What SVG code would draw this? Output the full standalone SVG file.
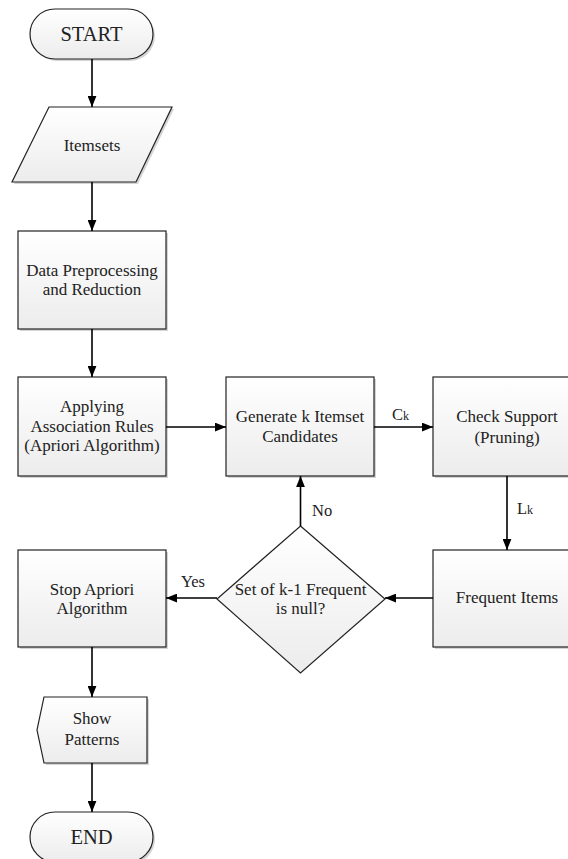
<svg xmlns="http://www.w3.org/2000/svg" width="568" height="859" viewBox="0 0 568 859">
<defs>
<linearGradient id="g" x1="0" y1="0" x2="0" y2="1">
<stop offset="0" stop-color="#ffffff"/>
<stop offset="1" stop-color="#ececec"/>
</linearGradient>
<marker id="a" viewBox="0 0 10 8" refX="10" refY="4" markerWidth="11" markerHeight="9" markerUnits="userSpaceOnUse" orient="auto">
<path d="M0,0 L10,4 L0,8 z" fill="#000"/>
</marker>
</defs>
<style>
.s{fill:url(#g);stroke:#222;stroke-width:1.2}
.sh{fill:#d4d4d4;stroke:none}
text{font-family:'Liberation Serif','DejaVu Serif',serif;fill:#222}
.t{font-size:17px;text-anchor:middle}
.tb{font-size:20.5px;text-anchor:middle}
.c{fill:none;stroke:#000;stroke-width:1.6;marker-end:url(#a)}
.l{font-size:16.5px}
</style>

<g id="start">
<rect class="sh" x="32" y="11" width="123" height="50" rx="25"/>
<rect class="s" x="30" y="9" width="123" height="50" rx="25"/>
<text class="tb" x="91.5" y="41">START</text>
</g>

<g id="itemsets">
<polygon class="sh" points="51,109 174,109 138,184 14,184"/>
<polygon class="s" points="49,107 172,107 136,182 12,182"/>
<text class="t" x="92" y="151">Itemsets</text>
</g>

<g id="preprocess">
<rect class="sh" x="20" y="233" width="148" height="98"/>
<rect class="s" x="18" y="231" width="148" height="98"/>
<text class="t" x="92" y="276">Data Preprocessing</text>
<text class="t" x="92" y="295">and Reduction</text>
</g>

<g id="apply">
<rect class="sh" x="20" y="379" width="148" height="99"/>
<rect class="s" x="18" y="377" width="148" height="99"/>
<text class="t" x="92" y="412">Applying</text>
<text class="t" x="92" y="432">Association Rules</text>
<text class="t" x="92" y="451">(Apriori Algorithm)</text>
</g>

<g id="generate">
<rect class="sh" x="228" y="379" width="148" height="99"/>
<rect class="s" x="226" y="377" width="148" height="99"/>
<text class="t" x="300" y="422">Generate k Itemset</text>
<text class="t" x="300" y="442">Candidates</text>
</g>

<g id="check">
<rect class="sh" x="435" y="379" width="148" height="99"/>
<rect class="s" x="433" y="377" width="148" height="99"/>
<text class="t" x="507" y="422">Check Support</text>
<text class="t" x="507" y="443">(Pruning)</text>
</g>

<g id="frequent">
<rect class="sh" x="435" y="552" width="148" height="97"/>
<rect class="s" x="433" y="550" width="148" height="97"/>
<text class="t" x="507" y="603">Frequent Items</text>
</g>

<g id="decision">
<polygon class="s" points="300.5,526 385,599 300.5,673 217,599"/>
<text class="t" x="300.5" y="595">Set of k-1 Frequent</text>
<text class="t" x="300.5" y="614">is null?</text>
</g>

<g id="stop">
<rect class="sh" x="20" y="552" width="148" height="97"/>
<rect class="s" x="18" y="550" width="148" height="97"/>
<text class="t" x="92" y="595">Stop Apriori</text>
<text class="t" x="92" y="614">Algorithm</text>
</g>

<g id="show">
<polygon class="sh" points="46,699 149,699 149,765 46,765 39,732"/>
<polygon class="s" points="44,697 147,697 147,763 44,763 37,730"/>
<text class="t" x="92" y="724">Show</text>
<text class="t" x="92" y="745">Patterns</text>
</g>

<g id="end">
<rect class="sh" x="32" y="814" width="123" height="50" rx="25"/>
<rect class="s" x="30" y="812" width="123" height="50" rx="25"/>
<text class="tb" x="91.5" y="844">END</text>
</g>

<g id="connectors">
<line class="c" x1="92" y1="59" x2="92" y2="107"/>
<line class="c" x1="92" y1="182" x2="92" y2="231"/>
<line class="c" x1="92" y1="329" x2="92" y2="377"/>
<line class="c" x1="166" y1="427" x2="226" y2="427"/>
<line class="c" x1="374" y1="427" x2="433" y2="427"/>
<line class="c" x1="507" y1="476" x2="507" y2="550"/>
<line class="c" x1="433" y1="598" x2="385" y2="598"/>
<line class="c" x1="300.5" y1="526" x2="300.5" y2="476"/>
<line class="c" x1="217" y1="598" x2="166" y2="598"/>
<line class="c" x1="92" y1="647" x2="92" y2="697"/>
<line class="c" x1="92" y1="763" x2="92" y2="812"/>
<text class="l" x="392" y="420">C<tspan font-size="12">k</tspan></text>
<text class="l" x="517" y="514">L<tspan font-size="12">k</tspan></text>
<text class="l" x="312" y="516">No</text>
<text class="l" x="181" y="587">Yes</text>
</g>
</svg>
